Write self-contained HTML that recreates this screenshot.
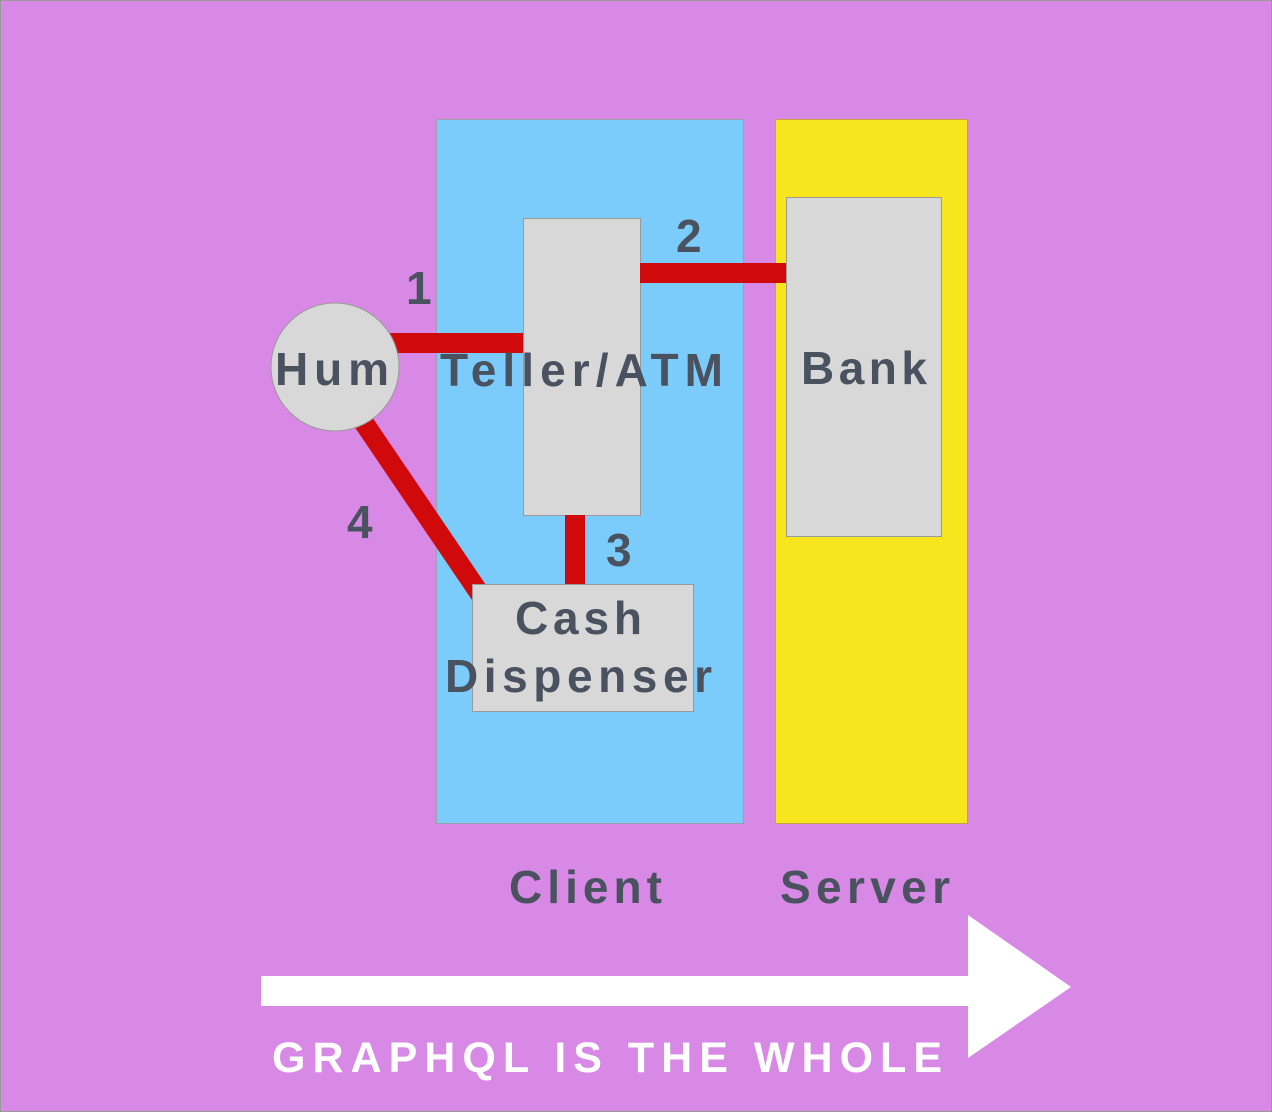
<!DOCTYPE html>
<html><head><meta charset="utf-8"><style>
html,body{margin:0;padding:0;background:#D789E5;}
svg{display:block;}
text{font-family:"Liberation Sans",sans-serif;font-weight:bold;}
</style></head><body>
<svg width="1272" height="1112" viewBox="0 0 1272 1112">
<rect x="0.5" y="0.5" width="1271" height="1111" fill="#D789E5" stroke="#9a9a9a"/>
<rect x="436.5" y="119.5" width="307" height="704" fill="#7BCBFB" stroke="#9aa0b0"/>
<rect x="775.5" y="119.5" width="192" height="704" fill="#F7E61E" stroke="#c9a040"/>
<rect x="523.5" y="218.5" width="117" height="297" fill="#D8D8D8" stroke="#9a9a9a"/>
<rect x="786.5" y="197.5" width="155" height="339" fill="#D8D8D8" stroke="#9a9a9a"/>
<line x1="380" y1="343" x2="523" y2="343" stroke="#D00A0A" stroke-width="20"/>
<line x1="640" y1="273" x2="786" y2="273" stroke="#D00A0A" stroke-width="20"/>
<line x1="575" y1="515" x2="575" y2="590" stroke="#D00A0A" stroke-width="20"/>
<line x1="362" y1="420" x2="480" y2="594" stroke="#D00A0A" stroke-width="20"/>
<rect x="472.5" y="584.5" width="221" height="127" fill="#D8D8D8" stroke="#9a9a9a"/>
<circle cx="335" cy="367" r="64" fill="#D8D8D8" stroke="#9a9a9a"/>
<g fill="#4A5260" font-size="46">
<text x="275" y="385" textLength="114" lengthAdjust="spacing">Hum</text>
<text x="440" y="386" textLength="283" lengthAdjust="spacing">Teller/ATM</text>
<text x="801" y="384" textLength="126" lengthAdjust="spacing">Bank</text>
<text x="515" y="634" textLength="127" lengthAdjust="spacing">Cash</text>
<text x="445" y="692" textLength="267" lengthAdjust="spacing">Dispenser</text>
<text x="509" y="903" textLength="153" lengthAdjust="spacing">Client</text>
<text x="780" y="903" textLength="170" lengthAdjust="spacing">Server</text>
<text x="406" y="304">1</text>
<text x="676" y="252">2</text>
<text x="606" y="566">3</text>
<text x="347" y="538">4</text>
</g>
<rect x="261" y="976" width="710" height="30" fill="#FFFFFF"/>
<polygon points="968,915 1071,987 968,1058" fill="#FFFFFF"/>
<text x="272" y="1072" font-size="43" fill="#FFFFFF" textLength="670" lengthAdjust="spacing">GRAPHQL IS THE WHOLE</text>
</svg>
</body></html>
